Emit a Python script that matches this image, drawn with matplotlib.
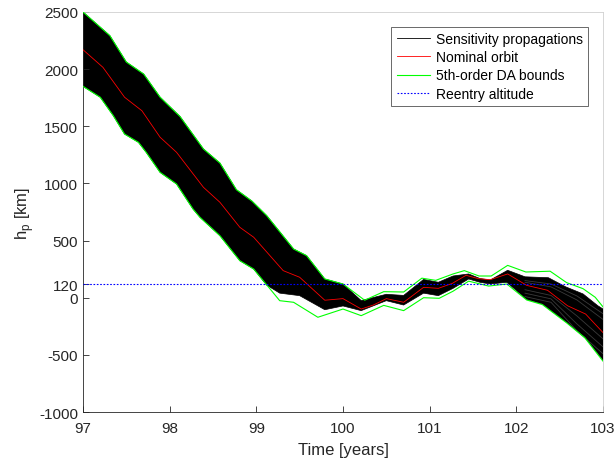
import matplotlib
matplotlib.use('Agg')
import matplotlib.pyplot as plt

plt.rcParams['font.family'] = ['Liberation Sans', 'DejaVu Sans']
plt.rcParams['axes.unicode_minus'] = False

# 5th-order DA bounds (upper / lower)
ub_t = [97.00, 97.31, 97.50, 97.70, 97.89, 98.12, 98.39, 98.58, 98.77, 98.95, 99.12, 99.43, 99.58, 99.79,
        100.00, 100.25, 100.47, 100.70, 100.91, 101.07, 101.27, 101.40, 101.57, 101.71, 101.90, 102.11,
        102.39, 102.58, 102.77, 102.91, 103.00]
ub_h = [2500, 2293, 2062, 1957, 1754, 1585, 1301, 1178, 945, 845, 718, 426, 368, 164,
        120, -22, 53, 50, 171, 152, 208, 237, 190, 190, 283, 225,
        232, 132, 79, 4, -80]

lb_t = [97.00, 97.20, 97.35, 97.48, 97.64, 97.73, 97.89, 98.08, 98.27, 98.35, 98.58, 98.81, 98.97, 99.27,
        99.43, 99.71, 100.00, 100.21, 100.47, 100.70, 100.93, 101.11, 101.27, 101.45, 101.68, 101.89,
        102.12, 102.30, 102.58, 102.79, 103.00]
lb_h = [1850, 1754, 1593, 1432, 1360, 1272, 1097, 995, 776, 704, 543, 324, 251, -26,
        -40, -171, -99, -157, -67, -113, 0, -5, 57, 145, 102, 120,
        -20, -60, -220, -350, -555]

# nominal orbit
nom_t = [97.00, 97.23, 97.48, 97.68, 97.89, 98.08, 98.39, 98.58, 98.81, 98.97, 99.31, 99.50, 99.79,
         100.00, 100.21, 100.35, 100.50, 100.70, 100.93, 101.10, 101.26, 101.42, 101.56, 101.70,
         101.90, 102.12, 102.36, 102.59, 102.80, 103.00]
nom_h = [2170, 2016, 1754, 1636, 1404, 1272, 966, 835, 616, 529, 237, 179, -22,
         -8, -99, -64, -8, -40, 91, 82, 125, 196, 167, 158,
         208, 108, 65, -70, -143, -305]

# envelope of the sensitivity propagations
sens_top_t = [97.00, 97.31, 97.50, 97.70, 97.89, 98.12, 98.39, 98.58, 98.77, 98.95, 99.12, 99.43, 99.58,
              99.79, 100.00, 100.21, 100.50, 100.70, 100.93, 101.10, 101.27, 101.45, 101.58, 101.70,
              101.90, 102.10, 102.37, 102.57, 102.77, 102.94, 103.00]
sens_top_h = [2500, 2293, 2062, 1957, 1754, 1585, 1301, 1178, 945, 845, 718, 426, 368,
              164, 120, -25, 30, 20, 160, 135, 190, 208, 168, 155,
              240, 183, 175, 95, 33, -70, -99]

sens_bot_t = [97.00, 97.20, 97.35, 97.48, 97.64, 97.73, 97.89, 98.08, 98.27, 98.35, 98.58, 98.81, 98.97,
              99.12, 99.27, 99.50, 99.79, 100.00, 100.21, 100.50, 100.70, 100.93, 101.10, 101.27,
              101.45, 101.58, 101.70, 101.89, 102.12, 102.30, 102.58, 102.79, 103.00]
sens_bot_h = [1850, 1754, 1593, 1432, 1360, 1272, 1097, 995, 776, 704, 543, 324, 251,
              110, 40, 18, -105, -72, -113, -26, -64, 40, 18, 82,
              164, 135, 120, 135, -15, -55, -215, -345, -545]

# a few individual propagations visible at the end of the band
inner_t = [102.1, 102.4, 102.7, 103.0]
inner_lines = [
    [150, 120, 15, -140],
    [135, 95, -20, -190],
    [70, 20, -160, -360],
    [40, -10, -230, -430],
    [10, -40, -290, -490],
]

reentry_alt = 120
yticks = [-1000, -500, 0, 120, 500, 1000, 1500, 2000, 2500]

fig = plt.figure(figsize=(6.16, 4.64), dpi=100)
ax = fig.add_axes([0.1347, 0.1099, 0.8442, 0.8621])

ax.fill(sens_top_t + sens_bot_t[::-1], sens_top_h + sens_bot_h[::-1],
        color='k', lw=0.5, zorder=1)
for ln in inner_lines:
    ax.plot(inner_t, ln, color='#3a3a3a', lw=0.6, zorder=2)
ax.plot([], [], color='k', lw=0.6, label='Sensitivity propagations')
ax.plot(nom_t, nom_h, color='#ff0000', lw=0.6, label='Nominal orbit', zorder=3)
ax.plot(ub_t, ub_h, color='#00ff00', lw=0.8, label='5th-order DA bounds', zorder=3)
ax.plot(lb_t, lb_h, color='#00ff00', lw=0.8, zorder=3)
ax.axhline(reentry_alt, color='#0000ff', ls=(0, (1.5, 1.5)), lw=0.8, label='Reentry altitude', zorder=4)

ax.set_xlim(97, 103)
ax.set_ylim(-1000, 2500)
ax.set_yticks(yticks)
ax.set_xticks(range(97, 104))
ax.tick_params(direction='in', length=4, width=0.6, labelsize=11, colors='#262626',
               top=False, right=False)
ax.tick_params(axis='x', pad=6.5)
for s in ['left', 'bottom']:
    ax.spines[s].set_color('#262626')
    ax.spines[s].set_linewidth(0.6)
for s in ['top', 'right']:
    ax.spines[s].set_color('#d0d0d0')
    ax.spines[s].set_linewidth(0.6)

ax.set_xlabel('Time [years]', fontsize=12, color='#262626', labelpad=5)
ax.set_ylabel(r'h$_\mathregular{p}$ [km]', fontsize=12, color='#262626', labelpad=2)

leg = ax.legend(loc='upper right', fontsize=10, frameon=True, fancybox=False,
                borderaxespad=1.05, handlelength=2.4, handletextpad=0.4,
                labelspacing=0.3, borderpad=0.4)
leg.get_frame().set_edgecolor('#262626')
leg.get_frame().set_linewidth(0.6)

fig.savefig('out.png', dpi=100)
